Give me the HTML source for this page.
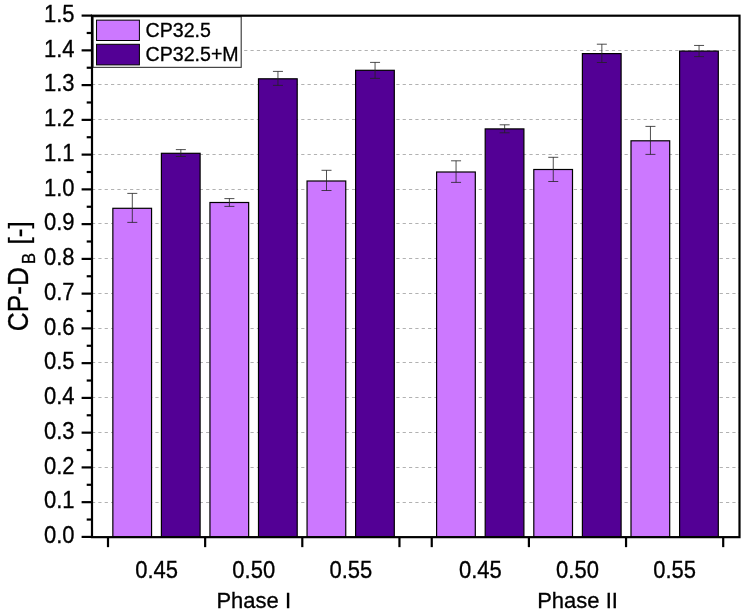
<!DOCTYPE html>
<html lang="en"><head><meta charset="utf-8"><title>CP-DB chart</title>
<style>html,body{margin:0;padding:0;background:#fff}svg{display:block}text{font-family:"Liberation Sans",Arial,sans-serif;fill:#000;stroke:#000;stroke-width:0.3px}</style>
</head><body>
<svg width="745" height="614" viewBox="0 0 745 614">
<rect width="745" height="614" fill="#fff"/>
<g stroke="#b2b2b2" stroke-width="1" stroke-dasharray="3.2 3.14" fill="none">
<line x1="92.0" y1="502.50" x2="739.5" y2="502.50"/>
<line x1="92.0" y1="467.50" x2="739.5" y2="467.50"/>
<line x1="92.0" y1="432.50" x2="739.5" y2="432.50"/>
<line x1="92.0" y1="397.50" x2="739.5" y2="397.50"/>
<line x1="92.0" y1="362.50" x2="739.5" y2="362.50"/>
<line x1="92.0" y1="328.50" x2="739.5" y2="328.50"/>
<line x1="92.0" y1="293.50" x2="739.5" y2="293.50"/>
<line x1="92.0" y1="258.50" x2="739.5" y2="258.50"/>
<line x1="92.0" y1="223.50" x2="739.5" y2="223.50"/>
<line x1="92.0" y1="189.50" x2="739.5" y2="189.50"/>
<line x1="92.0" y1="154.50" x2="739.5" y2="154.50"/>
<line x1="92.0" y1="119.50" x2="739.5" y2="119.50"/>
<line x1="92.0" y1="84.50" x2="739.5" y2="84.50"/>
<line x1="92.0" y1="50.50" x2="739.5" y2="50.50"/>
</g>
<g stroke="#000" stroke-width="1.2">
<rect x="112.85" y="208.30" width="38.7" height="328.85" fill="#cc78ff"/>
<rect x="161.40" y="153.30" width="38.7" height="383.85" fill="#530095"/>
<rect x="209.95" y="202.50" width="38.7" height="334.65" fill="#cc78ff"/>
<rect x="258.50" y="78.80" width="38.7" height="458.35" fill="#530095"/>
<rect x="307.05" y="181.00" width="38.7" height="356.15" fill="#cc78ff"/>
<rect x="355.60" y="70.30" width="38.7" height="466.85" fill="#530095"/>
<rect x="436.60" y="172.00" width="38.7" height="365.15" fill="#cc78ff"/>
<rect x="485.20" y="128.90" width="38.7" height="408.25" fill="#530095"/>
<rect x="533.80" y="169.50" width="38.7" height="367.65" fill="#cc78ff"/>
<rect x="582.40" y="53.60" width="38.7" height="483.55" fill="#530095"/>
<rect x="631.00" y="140.80" width="38.7" height="396.35" fill="#cc78ff"/>
<rect x="679.60" y="51.10" width="38.7" height="486.05" fill="#530095"/>
</g>
<g stroke="#222" stroke-width="0.8" fill="none">
<path d="M132.30 193.40V222.40M127.30 193.40H137.30M127.30 222.40H137.30"/>
<path d="M180.85 149.60V156.50M175.85 149.60H185.85M175.85 156.50H185.85"/>
<path d="M229.40 198.60V206.40M224.40 198.60H234.40M224.40 206.40H234.40"/>
<path d="M277.95 71.40V85.40M272.95 71.40H282.95M272.95 85.40H282.95"/>
<path d="M326.50 170.30V190.50M321.50 170.30H331.50M321.50 190.50H331.50"/>
<path d="M375.05 62.40V78.40M370.05 62.40H380.05M370.05 78.40H380.05"/>
<path d="M456.05 160.80V182.40M451.05 160.80H461.05M451.05 182.40H461.05"/>
<path d="M504.65 124.80V132.80M499.65 124.80H509.65M499.65 132.80H509.65"/>
<path d="M553.25 157.30V181.50M548.25 157.30H558.25M548.25 181.50H558.25"/>
<path d="M601.85 44.20V62.50M596.85 44.20H606.85M596.85 62.50H606.85"/>
<path d="M650.45 126.40V154.40M645.45 126.40H655.45M645.45 154.40H655.45"/>
<path d="M699.05 45.45V56.60M694.05 45.45H704.05M694.05 56.60H704.05"/>
</g>
<rect x="93.1" y="16.7" width="148.1" height="50.65" fill="#fff" stroke="#333" stroke-width="1.1"/>
<rect x="96.55" y="20.15" width="42.85" height="20.35" fill="#cc78ff" stroke="#000" stroke-width="1"/>
<rect x="96.55" y="44.3" width="42.85" height="20.6" fill="#530095" stroke="#000" stroke-width="1"/>
<g font-size="19.6">
<text transform="translate(145.6 37) scale(1 1.03)">CP32.5</text>
<text transform="translate(145.6 61) scale(1 1.03)">CP32.5+M</text>
</g>
<rect x="92.0" y="15.7" width="647.5" height="521.4499999999999" fill="none" stroke="#000" stroke-width="2.2"/>
<g stroke="#000" stroke-width="2.2">
<line x1="81.6" y1="536.93" x2="92.0" y2="536.93"/>
<line x1="86.7" y1="519.55" x2="92.0" y2="519.55"/>
<line x1="81.6" y1="502.17" x2="92.0" y2="502.17"/>
<line x1="86.7" y1="484.79" x2="92.0" y2="484.79"/>
<line x1="81.6" y1="467.42" x2="92.0" y2="467.42"/>
<line x1="86.7" y1="450.04" x2="92.0" y2="450.04"/>
<line x1="81.6" y1="432.66" x2="92.0" y2="432.66"/>
<line x1="86.7" y1="415.28" x2="92.0" y2="415.28"/>
<line x1="81.6" y1="397.91" x2="92.0" y2="397.91"/>
<line x1="86.7" y1="380.53" x2="92.0" y2="380.53"/>
<line x1="81.6" y1="363.15" x2="92.0" y2="363.15"/>
<line x1="86.7" y1="345.77" x2="92.0" y2="345.77"/>
<line x1="81.6" y1="328.40" x2="92.0" y2="328.40"/>
<line x1="86.7" y1="311.02" x2="92.0" y2="311.02"/>
<line x1="81.6" y1="293.64" x2="92.0" y2="293.64"/>
<line x1="86.7" y1="276.26" x2="92.0" y2="276.26"/>
<line x1="81.6" y1="258.89" x2="92.0" y2="258.89"/>
<line x1="86.7" y1="241.51" x2="92.0" y2="241.51"/>
<line x1="81.6" y1="224.13" x2="92.0" y2="224.13"/>
<line x1="86.7" y1="206.75" x2="92.0" y2="206.75"/>
<line x1="81.6" y1="189.38" x2="92.0" y2="189.38"/>
<line x1="86.7" y1="172.00" x2="92.0" y2="172.00"/>
<line x1="81.6" y1="154.62" x2="92.0" y2="154.62"/>
<line x1="86.7" y1="137.24" x2="92.0" y2="137.24"/>
<line x1="81.6" y1="119.87" x2="92.0" y2="119.87"/>
<line x1="86.7" y1="102.49" x2="92.0" y2="102.49"/>
<line x1="81.6" y1="85.11" x2="92.0" y2="85.11"/>
<line x1="86.7" y1="67.73" x2="92.0" y2="67.73"/>
<line x1="81.6" y1="50.36" x2="92.0" y2="50.36"/>
<line x1="86.7" y1="32.98" x2="92.0" y2="32.98"/>
<line x1="81.6" y1="15.60" x2="92.0" y2="15.60"/>
<line x1="108.00" y1="537.15" x2="108.00" y2="547.15"/>
<line x1="205.15" y1="537.15" x2="205.15" y2="547.15"/>
<line x1="302.30" y1="537.15" x2="302.30" y2="547.15"/>
<line x1="399.45" y1="537.15" x2="399.45" y2="547.15"/>
<line x1="431.75" y1="537.15" x2="431.75" y2="547.15"/>
<line x1="528.90" y1="537.15" x2="528.90" y2="547.15"/>
<line x1="626.05" y1="537.15" x2="626.05" y2="547.15"/>
<line x1="723.20" y1="537.15" x2="723.20" y2="547.15"/>
</g>
<g font-size="22" text-anchor="end">
<text transform="translate(74.6 543.13) scale(1.0 1.08)">0.0</text>
<text transform="translate(74.6 508.37) scale(1.0 1.08)">0.1</text>
<text transform="translate(74.6 473.62) scale(1.0 1.08)">0.2</text>
<text transform="translate(74.6 438.86) scale(1.0 1.08)">0.3</text>
<text transform="translate(74.6 404.11) scale(1.0 1.08)">0.4</text>
<text transform="translate(74.6 369.35) scale(1.0 1.08)">0.5</text>
<text transform="translate(74.6 334.60) scale(1.0 1.08)">0.6</text>
<text transform="translate(74.6 299.84) scale(1.0 1.08)">0.7</text>
<text transform="translate(74.6 265.09) scale(1.0 1.08)">0.8</text>
<text transform="translate(74.6 230.33) scale(1.0 1.08)">0.9</text>
<text transform="translate(74.6 195.57) scale(1.0 1.08)">1.0</text>
<text transform="translate(74.6 160.82) scale(1.0 1.08)">1.1</text>
<text transform="translate(74.6 126.07) scale(1.0 1.08)">1.2</text>
<text transform="translate(74.6 91.31) scale(1.0 1.08)">1.3</text>
<text transform="translate(74.6 56.56) scale(1.0 1.08)">1.4</text>
<text transform="translate(74.6 21.80) scale(1.0 1.08)">1.5</text>
</g>
<g font-size="22" text-anchor="middle">
<text transform="translate(156.57 577.7) scale(1.0 1.08)">0.45</text>
<text transform="translate(253.73 577.7) scale(1.0 1.08)">0.50</text>
<text transform="translate(350.88 577.7) scale(1.0 1.08)">0.55</text>
<text transform="translate(480.32 577.7) scale(1.0 1.08)">0.45</text>
<text transform="translate(577.48 577.7) scale(1.0 1.08)">0.50</text>
<text transform="translate(674.62 577.7) scale(1.0 1.08)">0.55</text>
<text transform="translate(253.7 607.6) scale(1.0 1.01)">Phase I</text>
<text transform="translate(577.5 607.6) scale(1.0 1.01)">Phase II</text>
</g>
<g font-size="26.6">
<text transform="translate(27.9 331.2) rotate(-90) scale(0.985 1.09)">CP-D</text>
<text transform="translate(34.6 263.9) rotate(-90) scale(0.95 1.08)" font-size="17.4">B</text>
<text transform="translate(28.0 244.6) rotate(-90) scale(0.985 1.03)">[-]</text>
</g>
</svg>
</body></html>
